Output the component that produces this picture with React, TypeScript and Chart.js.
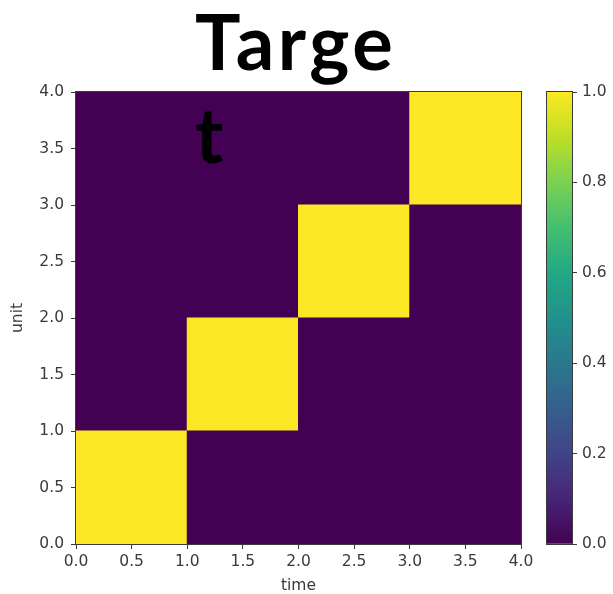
import React, { useEffect, useRef } from 'react';
import { Chart, registerables } from 'chart.js';

Chart.register(...registerables);

// ---- data ----
const timeCenters = [0.5, 1.5, 2.5, 3.5];
const unitRow0 = [1, 0, 0, 0];
const unitRow1 = [0, 1, 0, 0];
const unitRow2 = [0, 0, 1, 0];
const unitRow3 = [0, 0, 0, 1];
const unitRows = [unitRow0, unitRow1, unitRow2, unitRow3];
const axisTicks = [0, 0.5, 1, 1.5, 2, 2.5, 3, 3.5, 4];
const colorbarTicks = [0, 0.2, 0.4, 0.6, 0.8, 1.0];
const titleLines = ['Targe', 't'];
const xTitle = 'time';
const yTitle = 'unit';
const viridisStops = [
  '#440154', '#482475', '#414487', '#355f8d', '#2a788e', '#21918c',
  '#22a884', '#44bf70', '#7ad151', '#bddf26', '#fde725',
];

const W = 613;
const H = 594;
const tickFont = { family: 'DejaVu Sans', size: 15.5 };
const textColor = '#3a3a3a';
const frameColor = '#3a3a3a';

function hexToRgb(h: string) {
  const n = parseInt(h.slice(1), 16);
  return [(n >> 16) & 255, (n >> 8) & 255, n & 255];
}
function viridis(v: number) {
  const t = Math.max(0, Math.min(1, v)) * (viridisStops.length - 1);
  const i = Math.min(Math.floor(t), viridisStops.length - 2);
  const f = t - i;
  const a = hexToRgb(viridisStops[i]);
  const b = hexToRgb(viridisStops[i + 1]);
  const c = a.map((x, k) => Math.round(x + (b[k] - x) * f));
  return `rgb(${c[0]},${c[1]},${c[2]})`;
}

const framePlugin = {
  id: 'frame',
  afterDatasetsDraw(chart: any) {
    const { ctx, chartArea: a } = chart;
    ctx.save();
    ctx.strokeStyle = frameColor;
    ctx.lineWidth = 1;
    ctx.strokeRect(Math.round(a.left) - 0.5, Math.round(a.top) - 0.5, Math.round(a.right - a.left) + 1, Math.round(a.bottom - a.top) + 1);
    ctx.restore();
  },
};

const titlePlugin = {
  id: 'bigTitle',
  afterDraw(chart: any) {
    const { ctx } = chart;
    ctx.save();
    ctx.fillStyle = '#000';
    ctx.font = 'bold 76px Lato';
    (ctx as any).letterSpacing = '3.5px';
    ctx.textBaseline = 'alphabetic';
    ctx.textAlign = 'left';
    ctx.fillText(titleLines[0], 195, 70);
    ctx.fillText(titleLines[1], 195, 163);
    ctx.restore();
  },
};

const fmt = (v: any) => Number(v).toFixed(1);

export default function App() {
  const mainRef = useRef<HTMLCanvasElement>(null);
  const cbRef = useRef<HTMLCanvasElement>(null);

  useEffect(() => {
    const datasets = unitRows.map((row, r) => ({
      data: timeCenters.map((x) => ({ x, y: [r, r + 1] })),
      backgroundColor: row.map((v) => viridis(v)),
      borderWidth: 0,
      inflateAmount: 0.5,
      barThickness: 'flex' as const,
      barPercentage: 1,
      categoryPercentage: 1,
    }));

    const main = new Chart(mainRef.current!, {
      type: 'bar',
      data: { datasets: datasets as any },
      options: {
        responsive: false,
        animation: false,
        layout: { padding: { left: 0, top: 92, right: 92, bottom: 0 } },
        plugins: { legend: { display: false }, tooltip: { enabled: false }, title: { display: false } },
        scales: {
          x: {
            type: 'linear',
            min: 0,
            max: 4,
            offset: false,
            stacked: true,
            afterBuildTicks: (s: any) => { s.ticks = axisTicks.map((value) => ({ value })); },
            ticks: { callback: fmt, font: tickFont, color: textColor, padding: 4, maxRotation: 0, autoSkip: false },
            grid: { drawOnChartArea: false, tickLength: 5, color: frameColor, offset: false },
            border: { display: false },
            title: { display: true, text: xTitle, font: tickFont, color: textColor, padding: { top: 0, bottom: -1 } },
            afterFit: (s: any) => { s.height = 50; },
          },
          y: {
            type: 'linear',
            min: 0,
            max: 4,
            afterBuildTicks: (s: any) => { s.ticks = axisTicks.map((value) => ({ value })); },
            ticks: { callback: fmt, font: tickFont, color: textColor, padding: 7, autoSkip: false },
            grid: { drawOnChartArea: false, tickLength: 5, color: frameColor },
            border: { display: false },
            title: { display: true, text: yTitle, font: tickFont, color: textColor, padding: { top: 9, bottom: 0 } },
            afterFit: (s: any) => { s.width = 76; },
          },
        },
      },
      plugins: [framePlugin, titlePlugin],
    });

    const cb = new Chart(cbRef.current!, {
      type: 'bar',
      data: {
        labels: ['cb'],
        datasets: [
          {
            data: [[0, 1]] as any,
            borderWidth: 0,
            barPercentage: 1,
            categoryPercentage: 1,
            backgroundColor: (c: any) => {
              const chart = c.chart;
              const ys = chart.scales?.y;
              if (!chart.chartArea || !ys) return viridisStops[0];
              const g = chart.ctx.createLinearGradient(0, ys.getPixelForValue(0), 0, ys.getPixelForValue(1));
              viridisStops.forEach((col, i) => g.addColorStop(i / (viridisStops.length - 1), col));
              return g;
            },
          },
        ],
      },
      options: {
        responsive: false,
        animation: false,
        layout: { padding: { left: 547, top: 92, right: 0, bottom: 50 } },
        plugins: { legend: { display: false }, tooltip: { enabled: false } },
        scales: {
          x: { display: false, offset: true },
          y: {
            position: 'right',
            min: 0,
            max: 1,
            afterBuildTicks: (s: any) => { s.ticks = colorbarTicks.map((value) => ({ value })); },
            ticks: { callback: fmt, font: tickFont, color: textColor, padding: 5, autoSkip: false },
            grid: { drawOnChartArea: false, tickLength: 5, color: frameColor },
            border: { display: false },
            afterFit: (s: any) => { s.width = W - 572; },
          },
        },
      },
      plugins: [framePlugin],
    });

    return () => {
      main.destroy();
      cb.destroy();
    };
  }, []);

  return (
    <div style={{ position: 'fixed', left: 0, top: 0, width: W, height: H, background: '#fff' }}>
      <canvas ref={mainRef} width={W} height={H} style={{ position: 'absolute', left: 0, top: 0, width: W, height: H }} />
      <canvas ref={cbRef} width={W} height={H} style={{ position: 'absolute', left: 0, top: 0, width: W, height: H }} />
    </div>
  );
}
